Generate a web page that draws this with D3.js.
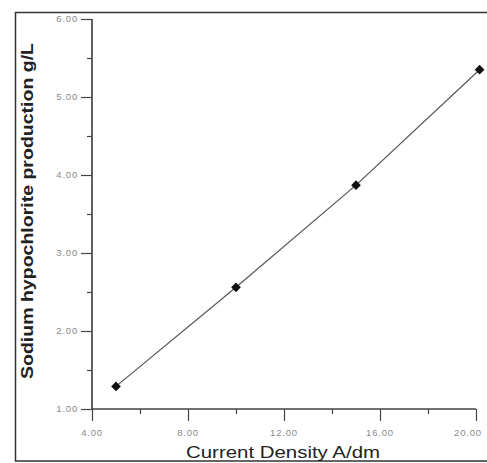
<!DOCTYPE html>
<html><head><meta charset="utf-8">
<script src="https://cdn.jsdelivr.net/npm/d3@7"></script>
<style>
html,body{margin:0;padding:0;background:#fff;}
svg{display:block;}
</style></head>
<body>
<svg id="chart" width="487" height="463"></svg>
<script>
const currentDensity = [5, 10, 15, 20.15];
const hypochlorite = [1.29, 2.56, 3.87, 5.35];
const xTickValues = [4, 8, 12, 16, 20];
const xTickLabels = ["4.00", "8.00", "12.00", "16.00", "20.00"];
const yTickValues = [1, 2, 3, 4, 5, 6];
const yTickLabels = ["1.00", "2.00", "3.00", "4.00", "5.00", "6.00"];
const xMinorValues = [6, 10, 14, 18];
const yMinorValues = [1.5, 2.5, 3.5, 4.5, 5.5];
const xTitle = "Current Density A/dm";
const yTitle = "Sodium hypochlorite production g/L";

const svg = d3.select("#chart");
const x = d3.scaleLinear().domain([4, 20]).range([92, 476]);
const y = d3.scaleLinear().domain([1, 6]).range([409, 19]);

// outer frame
svg.append("rect").attr("x", 15.5).attr("y", 12.5).attr("width", 480).attr("height", 448.5)
  .attr("fill", "none").attr("stroke", "#333").attr("stroke-width", 1.5);

const axisColor = "#444";
// x axis
const gx = svg.append("g").attr("transform", "translate(0,409)");
gx.call(d3.axisBottom(x).tickValues(xTickValues).tickSize(12).tickFormat(""));
gx.append("g").call(d3.axisBottom(x).tickValues(xMinorValues).tickSize(5).tickFormat(""));
gx.selectAll("path,line").attr("stroke", axisColor).attr("stroke-width", 1.2);
gx.selectAll("path").attr("d", `M${x(4)},0H${x(20)}`);
gx.selectAll(".xlab").data(xTickValues).enter().append("text")
  .attr("x", d => Math.min(x(d), 468)).attr("y", 27).attr("text-anchor", "middle")
  .attr("font-family", "Liberation Sans, Arial, sans-serif").attr("font-size", 9.5)
  .attr("letter-spacing", 0.8).attr("fill", "#888")
  .text((d, i) => xTickLabels[i]);

// y axis
const gy = svg.append("g").attr("transform", "translate(92,0)");
gy.call(d3.axisLeft(y).tickValues(yTickValues).tickSize(11).tickFormat(""));
gy.append("g").call(d3.axisLeft(y).tickValues(yMinorValues).tickSize(5).tickFormat(""));
gy.selectAll("path,line").attr("stroke", axisColor).attr("stroke-width", 1.2);
gy.selectAll("path").attr("d", `M0,${y(1)}V${y(6)}`);
gy.selectAll(".ylab").data(yTickValues).enter().append("text")
  .attr("x", -14).attr("y", d => y(d) + 3).attr("text-anchor", "end")
  .attr("font-family", "Liberation Sans, Arial, sans-serif").attr("font-size", 9.5)
  .attr("letter-spacing", 0.8).attr("fill", "#888")
  .text((d, i) => yTickLabels[i]);

// line
const line = d3.line().x((d, i) => x(currentDensity[i])).y(d => y(d));
svg.append("path").datum(hypochlorite).attr("d", line)
  .attr("fill", "none").attr("stroke", "#555").attr("stroke-width", 1.2);

// markers
svg.selectAll(".pt").data(hypochlorite).enter().append("path")
  .attr("transform", (d, i) => `translate(${x(currentDensity[i])},${y(d)})`)
  .attr("d", d3.symbol().type(d3.symbolDiamond2).size(60))
  .attr("fill", "#111");

// titles
svg.append("text").attr("x", 283).attr("y", 458).attr("text-anchor", "middle")
  .attr("font-family", "Liberation Sans, Arial, sans-serif").attr("font-size", 16.5)
  .attr("fill", "#222").attr("textLength", 194).attr("lengthAdjust", "spacingAndGlyphs")
  .text(xTitle);
svg.append("text").attr("transform", "translate(33,211) rotate(-90)").attr("text-anchor", "middle")
  .attr("font-family", "Liberation Sans, Arial, sans-serif").attr("font-size", 16.5)
  .attr("font-weight", "bold").attr("fill", "#222")
  .attr("textLength", 336).attr("lengthAdjust", "spacingAndGlyphs")
  .text(yTitle);
</script>
</body></html>
